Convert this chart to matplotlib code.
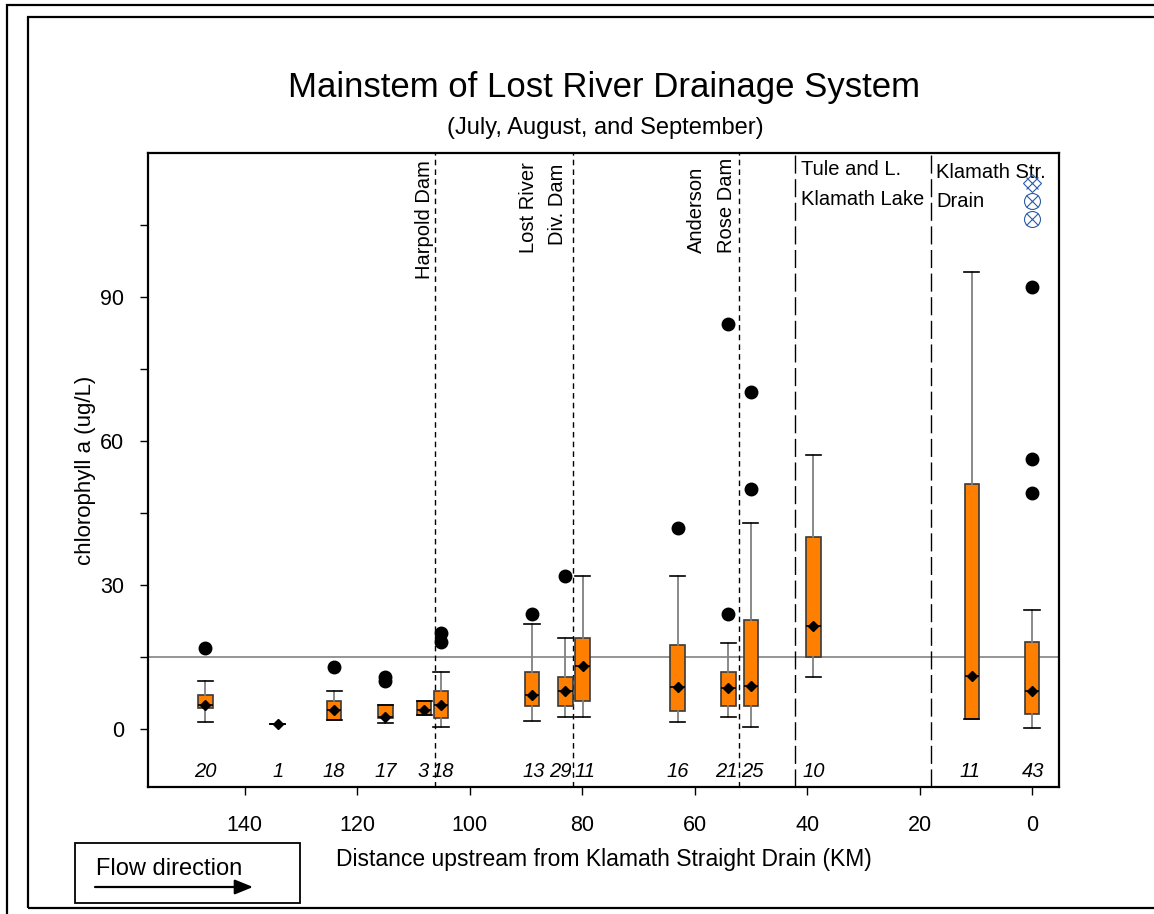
import matplotlib
matplotlib.use("Agg")
import matplotlib.pyplot as plt
from matplotlib.patches import Rectangle
import numpy as np

plt.rcParams['font.family'] = ['Liberation Sans', 'DejaVu Sans']

# ---------------- data ----------------
positions = [147.0, 134.1, 124.1, 115.0, 108.1, 105.1, 88.9, 83.0, 79.9, 63.0, 54.0, 50.0, 38.9, 10.7, 0.0]
q1        = [4.4, 1.1, 2.0, 2.4, 3.0, 2.4, 4.9, 4.9, 6.0, 3.9, 4.9, 4.9, 15.0, 2.1, 3.25]
medians   = [5.0, 1.1, 4.1, 2.6, 4.0, 5.0, 7.1, 8.0, 13.1, 8.75, 8.7, 9.0, 21.5, 11.1, 7.9]
q3        = [7.1, 1.1, 5.9, 5.0, 6.0, 8.0, 11.9, 10.9, 19.1, 17.6, 11.9, 22.8, 40.0, 51.1, 18.1]
whisk_lo  = [1.5, 1.1, 2.0, 1.3, 3.0, 0.5, 1.7, 2.5, 2.5, 1.5, 2.5, 0.5, 11.0, 2.1, 0.2]
whisk_hi  = [10.0, 1.1, 8.0, 5.0, 6.0, 12.0, 22.0, 19.1, 31.9, 32.0, 18.0, 43.0, 57.1, 95.2, 24.9]
means     = [5.0, 1.1, 4.1, 2.6, 4.1, 5.0, 7.1, 8.0, 13.1, 8.75, 8.7, 9.0, 21.5, 11.1, 7.9]
counts    = [20, 1, 18, 17, 3, 18, 13, 29, 11, 16, 21, 25, 10, 11, 43]
count_x   = [147.0, 134.1, 124.1, 115.0, 108.3, 104.7, 88.6, 83.9, 79.5, 63.0, 54.4, 49.7, 38.9, 11.0, -0.2]
outliers  = [[17], [], [13], [11, 10], [], [20, 18.2], [24], [32], [], [42],
             [24, 84.3], [50, 70.2], [], [], [92.2, 56.2, 49.2]]
offscale_x = [0.0, 0.0, 0.0]
offscale_y = [113.75, 110.0, 106.25]

reference_level = 15
dam_lines = [106.1, 81.6, 52.1]
lake_lines = [42.1, 18.0]

xticks = [140, 120, 100, 80, 60, 40, 20, 0]
yticks = [0, 30, 60, 90]
yminor = [15, 45, 75, 105]

W, H = 1154, 914


def fx(px):
    return px / W


def fy(py):
    return 1 - py / H


fig = plt.figure(figsize=(W / 100, H / 100), dpi=100)
ax = fig.add_axes([fx(148), fy(787), (1059 - 148) / W, (787 - 153) / H])
ax.set_xlim(157.2, -4.8)
ax.set_ylim(-12, 120)

# reference line
ax.axhline(reference_level, color='#8c8c8c', lw=1.3, zorder=1)

# vertical lines
for x in dam_lines:
    ax.axvline(x, color='black', lw=1.0, linestyle=(0, (4, 3)), zorder=1)
for x in lake_lines:
    ax.axvline(x, color='black', lw=1.0, linestyle=(0, (13, 4)), zorder=1)

stats = []
for i in range(len(positions)):
    stats.append(dict(med=medians[i], q1=q1[i], q3=q3[i], whislo=whisk_lo[i],
                      whishi=whisk_hi[i], mean=means[i], fliers=outliers[i]))

ax.bxp(stats, positions=positions, widths=2.6, showmeans=True, patch_artist=True,
       manage_ticks=False, capwidths=2.7,
       boxprops=dict(facecolor='#ff8000', edgecolor='#3a3a3a', lw=1.2),
       whiskerprops=dict(color='#808080', lw=1.3),
       capprops=dict(color='black', lw=1.2),
       medianprops=dict(color='black', lw=1.2),
       meanprops=dict(marker='D', markerfacecolor='black', markeredgecolor='black', markersize=5.5),
       flierprops=dict(marker='o', markerfacecolor='black', markeredgecolor='black', markersize=9),
       zorder=3)

# off-scale markers
blue = '#2a5caa'
ax.plot(offscale_x[:1], offscale_y[:1], linestyle='none', marker='D', markersize=9,
        markerfacecolor='none', markeredgecolor=blue, markeredgewidth=0.8, zorder=4)
ax.plot(offscale_x[1:], offscale_y[1:], linestyle='none', marker='o', markersize=11.5,
        markerfacecolor='none', markeredgecolor=blue, markeredgewidth=0.8, zorder=4)
ax.plot(offscale_x, offscale_y, linestyle='none', marker='x', markersize=8.5,
        markeredgecolor=blue, markeredgewidth=0.8, zorder=4)

# counts
for x, n in zip(count_x, counts):
    ax.text(x, -8.7, str(n), ha='center', va='center', fontsize=14.5, style='italic')

# annotations
ax.text(108.1, 118.6, 'Harpold Dam', rotation=90, ha='center', va='top', fontsize=14.5)
ax.text(89.6, 118.2, 'Lost River', rotation=90, ha='center', va='top', fontsize=14.5)
ax.text(84.4, 117.8, 'Div. Dam', rotation=90, ha='center', va='top', fontsize=14.5)
ax.text(59.6, 99.2, 'Anderson', rotation=90, ha='center', va='bottom', fontsize=14.5)
ax.text(54.4, 99.2, 'Rose Dam', rotation=90, ha='center', va='bottom', fontsize=14.5)
ax.text(41.0, 116.5, 'Tule and L.', ha='left', va='center', fontsize=14.5)
ax.text(41.0, 110.3, 'Klamath Lake', ha='left', va='center', fontsize=14.5)
ax.text(17.0, 116.0, 'Klamath Str.', ha='left', va='center', fontsize=14.5)
ax.text(17.0, 109.8, 'Drain', ha='left', va='center', fontsize=14.5)

# axes styling
ax.set_xticks(xticks)
ax.set_xticklabels([str(t) for t in xticks])
ax.set_yticks(yticks)
ax.set_yticklabels([str(t) for t in yticks])
ax.set_yticks(yminor, minor=True)
ax.tick_params(axis='both', which='both', direction='out', length=6, width=1.0,
               labelsize=15.5, top=False, right=False)
ax.tick_params(axis='x', which='major', pad=14)
ax.tick_params(axis='y', which='major', pad=11)
for s in ax.spines.values():
    s.set_linewidth(1.6)

ax.set_xlabel('Distance upstream from Klamath Straight Drain (KM)', fontsize=16.5, labelpad=9)
ax.set_ylabel('chlorophyll a (ug/L)', fontsize=16, labelpad=3)

fig.text(fx(604), fy(87), 'Mainstem of Lost River Drainage System', ha='center', va='center', fontsize=25)
fig.text(fx(605), fy(128), '(July, August, and September)', ha='center', va='center', fontsize=17)

# flow direction box
fig.add_artist(Rectangle((fx(75), fy(903)), (300 - 75) / W, (903 - 843) / H,
                         transform=fig.transFigure, fill=False, edgecolor='black', lw=1.3))
fig.text(fx(96), fy(869), 'Flow direction', ha='left', va='center', fontsize=17)
ax.annotate('', xy=(fx(253), fy(887)), xytext=(fx(95), fy(887)),
            xycoords='figure fraction', textcoords='figure fraction',
            arrowprops=dict(arrowstyle='-|>,head_length=1.1,head_width=0.45', color='black', lw=1.6,
                            shrinkA=0, shrinkB=0))

# outer frames
fig.add_artist(Rectangle((fx(7), fy(930)), (1170 - 7) / W, (930 - 5) / H,
                         transform=fig.transFigure, fill=False, edgecolor='black', lw=1.6))
fig.add_artist(Rectangle((fx(28), fy(908)), (1170 - 28) / W, (908 - 17) / H,
                         transform=fig.transFigure, fill=False, edgecolor='black', lw=1.6))

fig.savefig('out.png', dpi=100)
